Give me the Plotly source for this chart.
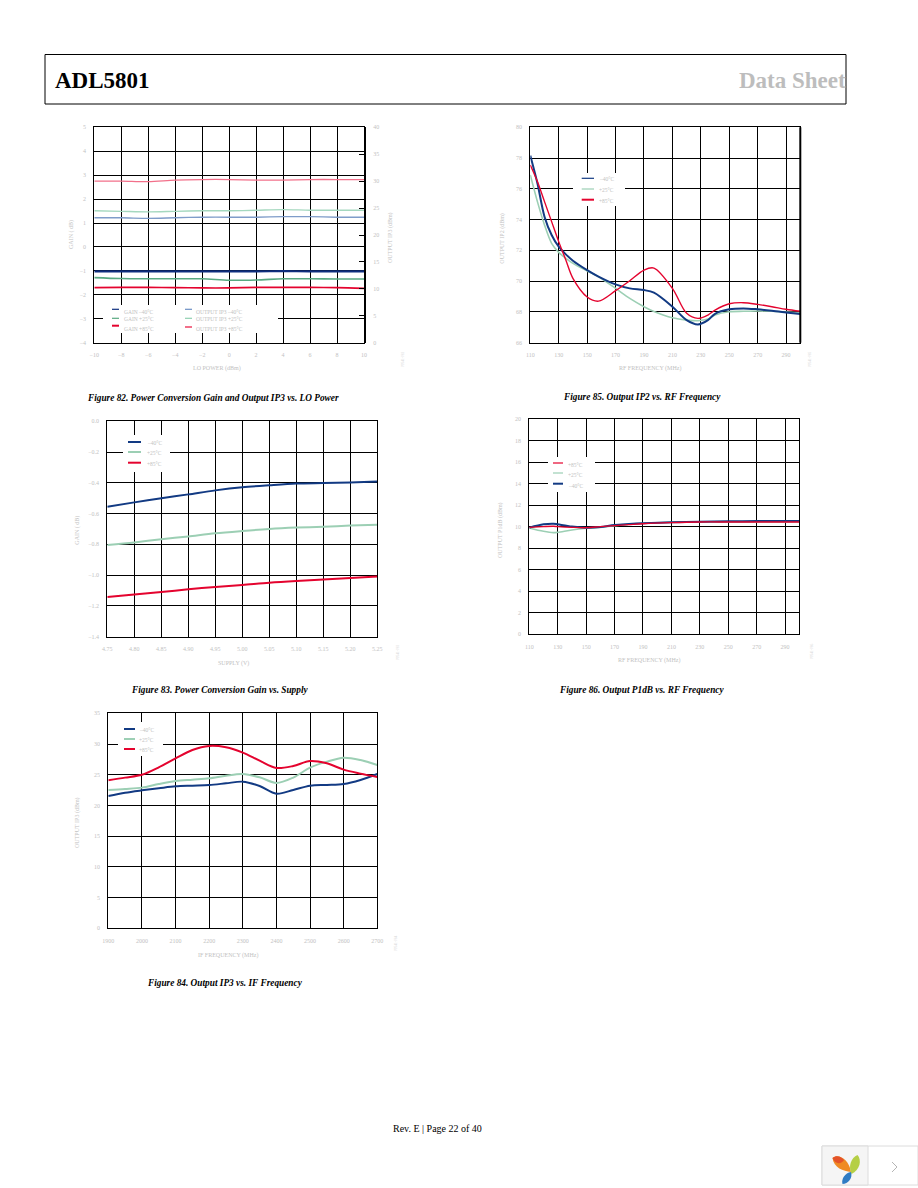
import plotly.graph_objects as go

W, H = 918, 1188
NAVY, GREEN, RED = "#123a83", "#9ccfb4", "#e4032e"
GREY = "#c2c2c2"
SERIF = "Liberation Serif"

# Figure 82
lo_power = [-10, -8, -6, -4, -2, 0, 2, 4, 6, 8, 10]
gain_m40 = [-1.02, -1.02, -1.02, -1.02, -1.02, -1.02, -1.02, -1.01, -1.02, -1.02, -1.02]
gain_p25 = [-1.28, -1.32, -1.33, -1.33, -1.33, -1.39, -1.38, -1.33, -1.33, -1.34, -1.34]
gain_p85 = [-1.70, -1.69, -1.69, -1.70, -1.71, -1.71, -1.69, -1.69, -1.69, -1.70, -1.73]
ip3_m40 = [23.2, 23.2, 23.1, 23.2, 23.3, 23.3, 23.3, 23.4, 23.4, 23.3, 23.3]
ip3_p25 = [24.5, 24.4, 24.3, 24.4, 24.5, 24.5, 24.6, 24.7, 24.6, 24.6, 24.6]
ip3_p85 = [30.0, 30.0, 29.9, 30.2, 30.3, 30.3, 30.2, 30.2, 30.3, 30.3, 30.3]

# Figure 85
ip2_freq = [110, 115, 120, 125, 130, 135, 140, 150, 158, 170, 180, 190, 197, 210, 220, 228, 235, 240, 250, 260, 270, 280, 290, 300]
ip2_m40 = [78.16, 76.36, 74.19, 73.0, 72.24, 71.74, 71.33, 70.72, 70.3, 69.79, 69.53, 69.42, 69.25, 68.34, 67.47, 67.19, 67.47, 67.88, 68.17, 68.23, 68.17, 68.08, 67.97, 67.86]
ip2_p25 = [76.9, 75.17, 73.65, 72.46, 71.87, 71.48, 71.16, 70.66, 70.28, 69.53, 68.88, 68.34, 68.03, 67.62, 67.47, 67.43, 67.54, 67.8, 68.01, 68.04, 68.06, 68.04, 67.99, 67.95]
ip2_p85 = [77.55, 76.47, 75.17, 73.87, 72.57, 71.37, 70.18, 68.97, 68.7, 69.38, 70.03, 70.72, 70.85, 69.53, 67.91, 67.58, 67.8, 68.12, 68.53, 68.6, 68.49, 68.34, 68.17, 68.04]

# Figure 83
supply = [4.75, 4.80, 4.85, 4.90, 4.95, 5.00, 5.05, 5.10, 5.15, 5.20, 5.25]
sup_m40 = [-0.555, -0.527, -0.50, -0.475, -0.449, -0.429, -0.416, -0.405, -0.401, -0.397, -0.392]
sup_p25 = [-0.804, -0.787, -0.767, -0.748, -0.728, -0.713, -0.70, -0.691, -0.685, -0.678, -0.672]
sup_p85 = [-1.142, -1.125, -1.11, -1.092, -1.077, -1.064, -1.049, -1.038, -1.029, -1.019, -1.008]

# Figure 86
p1db_freq = [110, 120, 127, 130, 140, 150, 160, 170, 180, 190, 210, 230, 250, 270, 290, 300]
p1db_m40 = [9.92, 10.23, 10.29, 10.23, 10.02, 9.92, 9.98, 10.17, 10.26, 10.33, 10.42, 10.48, 10.51, 10.54, 10.54, 10.54]
p1db_p25 = [9.89, 9.58, 9.46, 9.49, 9.71, 9.86, 9.95, 10.11, 10.23, 10.33, 10.42, 10.45, 10.45, 10.45, 10.45, 10.45]
p1db_p85 = [9.95, 10.02, 10.05, 10.02, 9.95, 9.92, 10.02, 10.11, 10.2, 10.29, 10.39, 10.45, 10.45, 10.45, 10.45, 10.45]

# Figure 84
if_freq = [1900, 1950, 2000, 2050, 2100, 2150, 2200, 2250, 2300, 2350, 2400, 2450, 2500, 2550, 2600, 2650, 2700]
if_m40 = [21.54, 22.08, 22.46, 22.79, 23.11, 23.22, 23.33, 23.6, 23.87, 23.17, 21.92, 22.52, 23.22, 23.33, 23.49, 24.15, 25.12]
if_p25 = [22.52, 22.68, 22.9, 23.49, 23.98, 24.2, 24.42, 24.85, 25.12, 24.58, 23.66, 24.53, 26.15, 27.13, 27.78, 27.4, 26.59]
if_p85 = [24.09, 24.53, 25.01, 26.21, 27.67, 29.03, 29.68, 29.46, 28.6, 27.29, 26.1, 26.42, 27.24, 26.86, 25.83, 25.18, 24.63]

lo_ticks = [-10, -8, -6, -4, -2, 0, 2, 4, 6, 8, 10]
gain_ticks = [5, 4, 3, 2, 1, 0, -1, -2, -3, -4]
ip3_ticks = [0, 5, 10, 15, 20, 25, 30, 35, 40]
freq_ticks = [110, 130, 150, 170, 190, 210, 230, 250, 270, 290]
ip2_ticks = [66, 68, 70, 72, 74, 76, 78, 80]
supply_ticks = [4.75, 4.80, 4.85, 4.90, 4.95, 5.00, 5.05, 5.10, 5.15, 5.20, 5.25]
sup_gain_ticks = [0, -0.2, -0.4, -0.6, -0.8, -1.0, -1.2, -1.4]
p1db_ticks = [0, 2, 4, 6, 8, 10, 12, 14, 16, 18, 20]
if_ticks = [1900, 2000, 2100, 2200, 2300, 2400, 2500, 2600, 2700]
oip3_ticks = [0, 5, 10, 15, 20, 25, 30, 35]

fig = go.Figure()


def px(x):
    return x / W


def py(y):
    return 1 - y / H


def axis_style(vals, fmt=None):
    return dict(
        tickmode="array", tickvals=vals, tickformat=fmt,
        ticks="", showline=True, mirror=True, linecolor="black", linewidth=1,
        showgrid=True, gridcolor="black", gridwidth=1, zeroline=False,
        tickfont=dict(family=SERIF, size=6, color=GREY), ticklabelstandoff=6,
    )


def add_panel(n, box, xr, yr, xvals, yvals, xfmt=None, yfmt=None):
    left, top, right, bottom = box
    xa = axis_style(xvals, xfmt)
    ya = axis_style(yvals, yfmt)
    xa.update(range=xr, domain=[px(left), px(right)], anchor=f"y{n}")
    ya.update(range=yr, domain=[py(bottom), py(top)], anchor=f"x{n}")
    fig.layout[f"xaxis{n}"] = xa
    fig.layout[f"yaxis{n}"] = ya


def add_line(n, x, y, color, width, yaxis=None):
    fig.add_trace(go.Scatter(
        x=x, y=y, mode="lines", xaxis=f"x{n}", yaxis=yaxis or f"y{n}",
        line=dict(color=color, width=width, shape="spline", smoothing=0.9),
        showlegend=False,
    ))


def add_text(x, y, text, size=6, color=GREY, anchor="left", **kw):
    fig.add_annotation(
        x=px(x), y=py(y), xref="paper", yref="paper", text=text, showarrow=False,
        xanchor=anchor, yanchor="middle", font=dict(family=SERIF, size=size, color=color), **kw,
    )


def add_key(box, entries):
    x0, y0, x1, y1 = box
    fig.add_shape(type="rect", xref="paper", yref="paper", x0=px(x0), x1=px(x1), y0=py(y0), y1=py(y1),
                  fillcolor="white", line_width=0, layer="above")
    for lx0, lx1, ly, ty, tx, color, width, label in entries:
        fig.add_shape(type="line", xref="paper", yref="paper", x0=px(lx0), x1=px(lx1), y0=py(ly), y1=py(ly),
                      line=dict(color=color, width=width), layer="above")
        add_text(tx, ty, label, size=5.5)


def add_petal(path, color):
    fig.add_shape(type="path", xref="paper", yref="paper", layer="above", line_width=0,
                  fillcolor=color, path=path)


# panel 1, gain plus output IP3 on the right axis
add_panel(1, (94.3, 127.3, 364, 342.7), [-10, 10], [-4, 5], lo_ticks, gain_ticks)
fig.layout["yaxis6"] = dict(
    overlaying="y1", side="right", anchor="x1", range=[0, 40], tickmode="array", tickvals=ip3_ticks,
    showgrid=False, zeroline=False, showline=True, linecolor="black", linewidth=2,
    ticks="inside", ticklen=5, tickcolor="black", tickwidth=1,
    tickfont=dict(family=SERIF, size=6, color=GREY), ticklabelstandoff=6,
)
add_line(1, lo_power, ip3_m40, "#7f9cc9", 1.3, "y6")
add_line(1, lo_power, ip3_p25, "#a5d8bf", 1.3, "y6")
add_line(1, lo_power, ip3_p85, "#f2708a", 1.3, "y6")
add_line(1, lo_power, gain_m40, "#0f2f7f", 2.2)
add_line(1, lo_power, gain_p25, "#58a981", 1.6)
add_line(1, lo_power, gain_p85, RED, 1.6)

# panel 2, its right edge is drawn heavier
add_panel(2, (530.3, 127.3, 800.3, 342.7), [110, 300], [66, 80], freq_ticks, ip2_ticks)
add_line(2, ip2_freq, ip2_p25, GREEN, 1.6)
add_line(2, ip2_freq, ip2_m40, NAVY, 2)
add_line(2, ip2_freq, ip2_p85, RED, 1.4)
fig.add_shape(type="line", xref="paper", yref="paper", x0=px(800.3), x1=px(800.3), y0=py(127.3), y1=py(342.7),
              line=dict(color="black", width=2), layer="above")

# panel 3
add_panel(3, (107.3, 421.3, 377.3, 636.7), [4.75, 5.25], [-1.4, 0], supply_ticks, sup_gain_ticks, ".2f", ".1f")
add_line(3, supply, sup_m40, NAVY, 2)
add_line(3, supply, sup_p25, GREEN, 2)
add_line(3, supply, sup_p85, RED, 2)

# panel 4
add_panel(4, (529.3, 419.3, 799.3, 634.3), [110, 300], [0, 20], freq_ticks, p1db_ticks)
add_line(4, p1db_freq, p1db_p25, GREEN, 1.6)
add_line(4, p1db_freq, p1db_m40, NAVY, 2)
add_line(4, p1db_freq, p1db_p85, RED, 1.4)

# panel 5
add_panel(5, (108.3, 713.3, 377.3, 928.3), [1900, 2700], [0, 35], if_ticks, oip3_ticks)
add_line(5, if_freq, if_m40, NAVY, 2)
add_line(5, if_freq, if_p25, GREEN, 2)
add_line(5, if_freq, if_p85, RED, 2)

# axis titles as page text, a title standoff would push the margins
add_text(216.7, 369, "LO POWER (dBm)", anchor="center")
add_text(72, 235, "GAIN ( dB)", anchor="center", textangle=-90)
add_text(390, 238, "OUTPUT IP3 (dBm)", anchor="center", textangle=-90)
add_text(650, 369, "RF FREQUENCY (MHz)", anchor="center")
add_text(501.7, 238, "OUTPUT IP2 (dBm)", anchor="center", textangle=-90)
add_text(233, 663, "SUPPLY (V)", anchor="center")
add_text(76.7, 530, "GAIN ( dB)", anchor="center", textangle=-90)
add_text(649, 660.7, "RF FREQUENCY (MHz)", anchor="center")
add_text(500, 530, "OUTPUT P1dB (dBm)", anchor="center", textangle=-90)
add_text(228, 955, "IF FREQUENCY (MHz)", anchor="center")
add_text(77, 823, "OUTPUT IP3 (dBm)", anchor="center", textangle=-90)

# keys sit on white patches that break the grid
add_key((103, 305, 278, 333), [
    (112, 119, 309.3, 311.7, 121.7, "#0f2f7f", 1.2, "GAIN –40°C"),
    (112, 119, 318.3, 319.3, 121.7, "#58a981", 1.2, "GAIN +25°C"),
    (112, 119, 325.7, 328.7, 121.7, RED, 2, "GAIN +85°C"),
    (185, 192, 309.3, 311.7, 194, "#6d8fc4", 1.2, "OUTPUT IP3 –40°C"),
    (185, 192, 318.3, 319.3, 194, "#8fd0b0", 1.2, "OUTPUT IP3 +25°C"),
    (185, 192, 327, 328.7, 194, "#f2708a", 2, "OUTPUT IP3 +85°C"),
])
add_key((573, 173, 625, 206), [
    (581.7, 594, 178.3, 179.5, 596.7, NAVY, 1.2, "–40°C"),
    (581.7, 594, 189, 190, 596.7, GREEN, 1.2, "+25°C"),
    (581.7, 594, 199.7, 200.7, 596.7, RED, 2, "+85°C"),
])
add_key((123, 435, 170, 472), [
    (128, 141, 442, 443, 145, NAVY, 2, "–40°C"),
    (128, 141, 452, 453, 145, GREEN, 2, "+25°C"),
    (128, 141, 462.7, 463.7, 145, RED, 2, "+85°C"),
])
add_key((548, 457, 595, 492), [
    (553, 563, 463, 464.5, 566, RED, 1.2, "+85°C"),
    (553, 563, 473, 475, 566, GREEN, 1.2, "+25°C"),
    (553, 563, 483.7, 486, 566, NAVY, 2, "–40°C"),
])
add_key((118, 722, 163, 756), [
    (124, 135, 729, 730, 137, NAVY, 2, "–40°C"),
    (124, 135, 739, 740, 137, GREEN, 2, "+25°C"),
    (124, 135, 749, 750, 137, RED, 2, "+85°C"),
])

# header band
fig.add_shape(type="rect", xref="paper", yref="paper", x0=px(45), x1=px(846), y0=py(54.5), y1=py(104),
              line=dict(color="black", width=1), fillcolor="rgba(0,0,0,0)", layer="above")
add_text(52.5, 81, "<b>ADL5801</b>", size=23, color="black")
add_text(848, 81, "<b>Data Sheet</b>", size=23, color="#bdbdbd", anchor="right")

# captions
add_text(213, 398, "<b><i>Figure 82. Power Conversion Gain and Output IP3 vs. LO Power</i></b>", size=9.3, color="black", anchor="center")
add_text(642, 397, "<b><i>Figure 85. Output IP2 vs. RF Frequency</i></b>", size=9.3, color="black", anchor="center")
add_text(220, 690, "<b><i>Figure 83. Power Conversion Gain vs. Supply</i></b>", size=9.3, color="black", anchor="center")
add_text(641, 690, "<b><i>Figure 86. Output P1dB vs. RF Frequency</i></b>", size=9.3, color="black", anchor="center")
add_text(224.5, 983, "<b><i>Figure 84. Output IP3 vs. IF Frequency</i></b>", size=9.3, color="black", anchor="center")
add_text(437, 1128.5, "Rev. E | Page 22 of 40", size=10, color="black", anchor="center")

# tiny vertical drawing numbers next to each plot
for x, y, label in [(403, 360, "09541-082"), (810, 360, "09541-085"), (398, 653, "09541-083"),
                    (812, 652, "09541-086"), (396, 944, "09541-084")]:
    add_text(x, y, label, size=3.5, color="#d8d8d8", anchor="center", textangle=-90)

# viewer widget, bottom right corner
fig.add_shape(type="rect", xref="paper", yref="paper", x0=px(822), x1=px(918), y0=py(1146), y1=py(1185),
              fillcolor="white", line=dict(color="#dcdcdc", width=1), layer="above")
fig.add_shape(type="rect", xref="paper", yref="paper", x0=px(822), x1=px(868), y0=py(1146), y1=py(1185),
              fillcolor="#f5f5f5", line=dict(color="#dcdcdc", width=1), layer="above")
add_petal(f"M{px(832.5)},{py(1158)} C{px(839)},{py(1153)} {px(849)},{py(1160)} {px(851)},{py(1172)} C{px(843)},{py(1171)} {px(834)},{py(1168)} {px(832.5)},{py(1158)} Z", "#ef8a24")
add_petal(f"M{px(832.5)},{py(1158)} C{px(836)},{py(1155)} {px(841)},{py(1156)} {px(844)},{py(1160)} C{px(842)},{py(1164)} {px(835)},{py(1165)} {px(832.5)},{py(1158)} Z", "#e4532a")
add_petal(f"M{px(857.5)},{py(1155)} C{px(862)},{py(1160)} {px(860)},{py(1170)} {px(851.5)},{py(1174)} C{px(848)},{py(1166)} {px(851)},{py(1158)} {px(857.5)},{py(1155)} Z", "#b5cf45")
add_petal(f"M{px(851)},{py(1172)} C{px(853)},{py(1178)} {px(848)},{py(1184)} {px(842.5)},{py(1184)} C{px(841)},{py(1179)} {px(845)},{py(1173)} {px(851)},{py(1172)} Z", "#2f7cc4")
fig.add_shape(type="path", xref="paper", yref="paper", layer="above", line=dict(color="#b5b5b5", width=1),
              path=f"M{px(892)},{py(1162)} L{px(897)},{py(1167)} L{px(892)},{py(1172)}")

fig.update_layout(
    width=W, height=H, margin=dict(l=0, r=0, t=0, b=0, autoexpand=False), autosize=False,
    paper_bgcolor="white", plot_bgcolor="white", showlegend=False,
)

fig.write_html("out.html", config=dict(displayModeBar=False), post_script="document.body.style.margin='0';")
